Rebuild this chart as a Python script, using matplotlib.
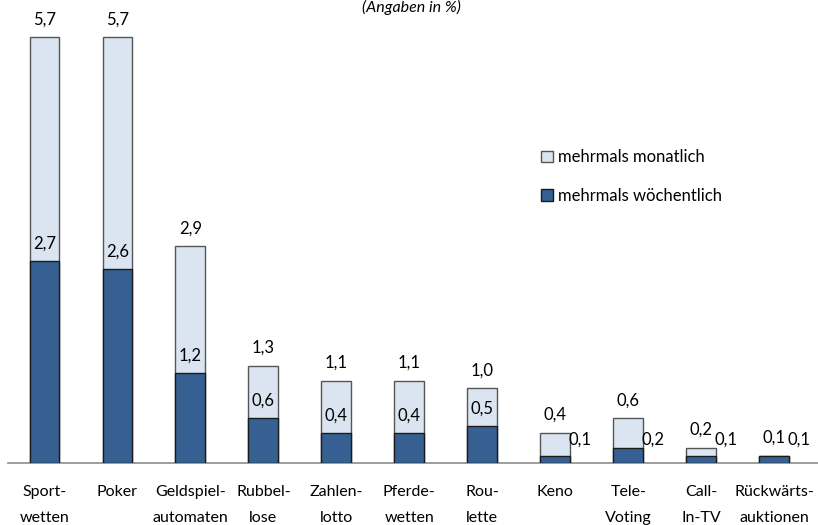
import matplotlib
matplotlib.use("Agg")
import matplotlib.pyplot as plt
from matplotlib.patches import Patch
import numpy as np

plt.rcParams['font.family'] = ['Lato', 'DejaVu Sans']

categories = ["Sport-\nwetten", "Poker", "Geldspiel-\nautomaten", "Rubbel-\nlose",
              "Zahlen-\nlotto", "Pferde-\nwetten", "Rou-\nlette", "Keno",
              "Tele-\nVoting", "Call-\nIn-TV", "Rückwärts-\nauktionen"]
monthly = [5.7, 5.7, 2.9, 1.3, 1.1, 1.1, 1.0, 0.4, 0.6, 0.2, 0.1]
weekly = [2.7, 2.6, 1.2, 0.6, 0.4, 0.4, 0.5, 0.1, 0.2, 0.1, 0.1]
legend_labels = ["mehrmals monatlich", "mehrmals wöchentlich"]
title = "(Angaben in %)"

light = "#dbe5f1"
dark = "#376092"
edge_light = "#555555"
edge_dark = "#1a1a1a"

fig = plt.figure(figsize=(8.18, 5.25), dpi=100)
ax = fig.add_axes([8/818, 62/525, 810/818, 463/525])
x = np.arange(len(categories))
w = 0.41
ax.bar(x, monthly, width=w, color=light, edgecolor=edge_light, linewidth=1.0, zorder=2)
ax.bar(x, weekly, width=w, color=dark, edgecolor=edge_dark, linewidth=1.0, zorder=3)

ax.set_xlim(-0.5, 10.6)
ax.set_ylim(0, 6.2)
ax.set_yticks([])
for s in ["top", "right", "left"]:
    ax.spines[s].set_visible(False)
ax.spines["bottom"].set_color("#8c8c8c")
ax.spines["bottom"].set_linewidth(1.2)
ax.set_xticks(x)
ax.set_xticklabels(categories, fontsize=11.5, linespacing=2.05)
ax.tick_params(axis="x", length=0, pad=16)

fs = 12
fmt = lambda v: f"{v:.1f}".replace(".", ",")
small_label_y = 0.31
for i, (m, wk) in enumerate(zip(monthly, weekly)):
    ax.annotate(fmt(m), (i, m), xytext=(0, 13), textcoords="offset points",
                ha="center", va="center", fontsize=fs)
    if (m - wk) >= 0.5:
        ax.annotate(fmt(wk), (i, wk), xytext=(0, 12.5), textcoords="offset points",
                    ha="center", va="center", fontsize=fs, zorder=5)
    else:
        ax.text(i + w/2 - 0.02, small_label_y, fmt(wk), ha="left", va="center",
                fontsize=fs, zorder=5)

handles = [Patch(facecolor=light, edgecolor=edge_light), Patch(facecolor=dark, edgecolor=edge_dark)]
fig.legend(handles, legend_labels, loc="upper left", bbox_to_anchor=(528/818, 1 - 136/525),
           frameon=False, fontsize=12, handlelength=0.7, handleheight=0.7,
           handletextpad=0.3, labelspacing=1.35, borderpad=0.3)

fig.text(411/818, 1.0, title, ha="center", va="top", fontsize=11.5, style="italic")

fig.savefig("out.png", dpi=100)
